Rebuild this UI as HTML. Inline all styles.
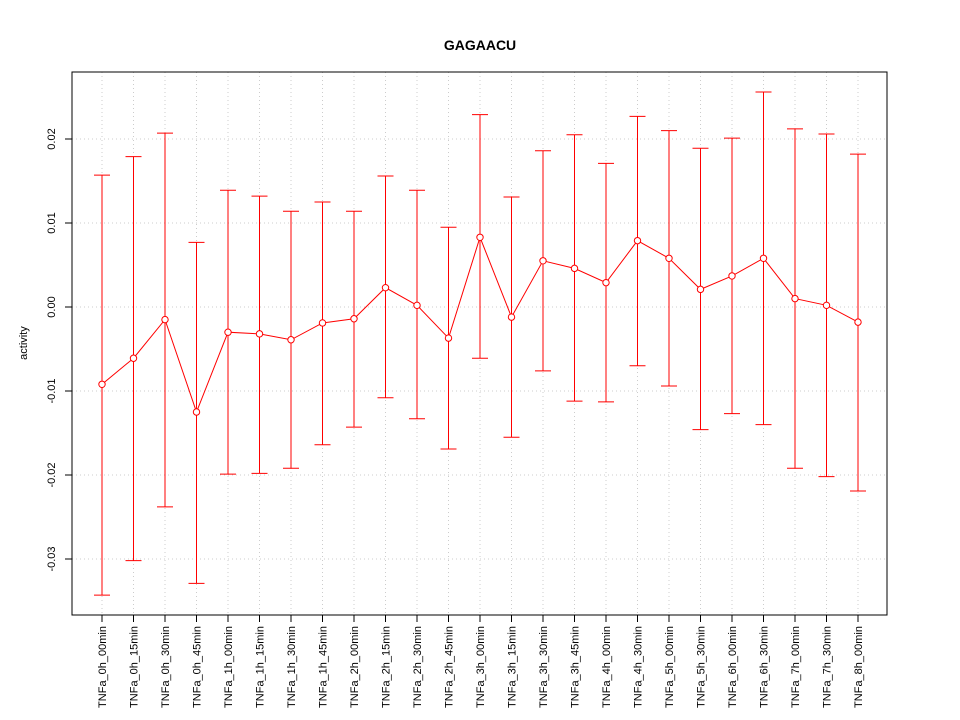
<!DOCTYPE html>
<html><head><meta charset="utf-8"><style>
body{margin:0;background:#fff;}
svg{display:block;font-family:"Liberation Sans",sans-serif;}
</style></head><body>
<svg id="chart" width="960" height="720">
<rect width="960" height="720" fill="#fff"/>
<text x="480" y="50" text-anchor="middle" font-size="14" font-weight="bold">GAGAACU</text>
<text transform="translate(27,343) rotate(-90)" text-anchor="middle" font-size="11">activity</text>
<g id="grid"></g><g id="axes"></g><g id="marks"></g>
<rect x="72" y="72" width="815" height="543" fill="none" stroke="#000"/>
</svg>
<script>
const categories=["TNFa_0h_00min","TNFa_0h_15min","TNFa_0h_30min","TNFa_0h_45min","TNFa_1h_00min","TNFa_1h_15min","TNFa_1h_30min","TNFa_1h_45min","TNFa_2h_00min","TNFa_2h_15min","TNFa_2h_30min","TNFa_2h_45min","TNFa_3h_00min","TNFa_3h_15min","TNFa_3h_30min","TNFa_3h_45min","TNFa_4h_00min","TNFa_4h_30min","TNFa_5h_00min","TNFa_5h_30min","TNFa_6h_00min","TNFa_6h_30min","TNFa_7h_00min","TNFa_7h_30min","TNFa_8h_00min"];
const values=[-0.0092,-0.0061,-0.0015,-0.0125,-0.0030,-0.0032,-0.0039,-0.0019,-0.0014,0.0023,0.0002,-0.0037,0.0083,-0.0012,0.0055,0.0046,0.0029,0.0079,0.0058,0.0021,0.0037,0.0058,0.0010,0.0002,-0.0018];
const upper=[0.0157,0.0179,0.0207,0.0077,0.0139,0.0132,0.0114,0.0125,0.0114,0.0156,0.0139,0.0095,0.0229,0.0131,0.0186,0.0205,0.0171,0.0227,0.0210,0.0189,0.0201,0.0256,0.0212,0.0206,0.0182];
const lower=[-0.0343,-0.0302,-0.0238,-0.0329,-0.0199,-0.0198,-0.0192,-0.0164,-0.0143,-0.0108,-0.0133,-0.0169,-0.0061,-0.0155,-0.0076,-0.0112,-0.0113,-0.0070,-0.0094,-0.0146,-0.0127,-0.0140,-0.0192,-0.0202,-0.0219];
const yTicks=[-0.03,-0.02,-0.01,0,0.01,0.02];
const yTickLabels=["-0.03","-0.02","-0.01","0.00","0.01","0.02"];
const NS="http://www.w3.org/2000/svg";
const y=v=>307-v*8400;
const x=i=>102+i*(756/(categories.length-1));
function mk(tag,attrs,parent){const e=document.createElementNS(NS,tag);for(const k in attrs)e.setAttribute(k,attrs[k]);document.getElementById(parent).appendChild(e);return e;}
yTicks.forEach((t,i)=>{
 const g=mk('line',{x1:72,x2:887,y1:y(t),y2:y(t),stroke:'#ccc','stroke-dasharray':'1,3'},'grid');
 
 
 const tk=mk('line',{x1:65,x2:72,y1:y(t),y2:y(t),stroke:'#000'},'axes');
 
 
 const tx=mk('text',{transform:`translate(55,${y(t)}) rotate(-90)`,'text-anchor':'middle','font-size':11},'axes');
 tx.textContent=yTickLabels[i];
 
 
});
categories.forEach((c,i)=>{
 const g=mk('line',{x1:x(i),x2:x(i),y1:72,y2:615,stroke:'#ccc','stroke-dasharray':'1,3'},'grid');
 
 
 const tk=mk('line',{x1:x(i),x2:x(i),y1:615,y2:622,stroke:'#000'},'axes');
 
 
 const tx=mk('text',{transform:`translate(${x(i)+4},626) rotate(-90)`,'text-anchor':'end','font-size':11},'axes');
 tx.textContent=c;
 
 
 const eb=mk('path',{d:`M${x(i)},${y(upper[i])}V${y(lower[i])}M${x(i)-8},${y(upper[i])}H${x(i)+8}M${x(i)-8},${y(lower[i])}H${x(i)+8}`,stroke:'#f00',fill:'none'},'marks');
 
 
});
const pl=mk('polyline',{points:values.map((v,i)=>x(i)+','+y(v)).join(' '),stroke:'#f00',fill:'none'},'marks');


values.forEach((v,i)=>{
 const c=mk('circle',{cx:x(i),cy:y(v),r:3.2,fill:'#fff',stroke:'#f00'},'marks');
 
 
});
</script>
</body></html>
